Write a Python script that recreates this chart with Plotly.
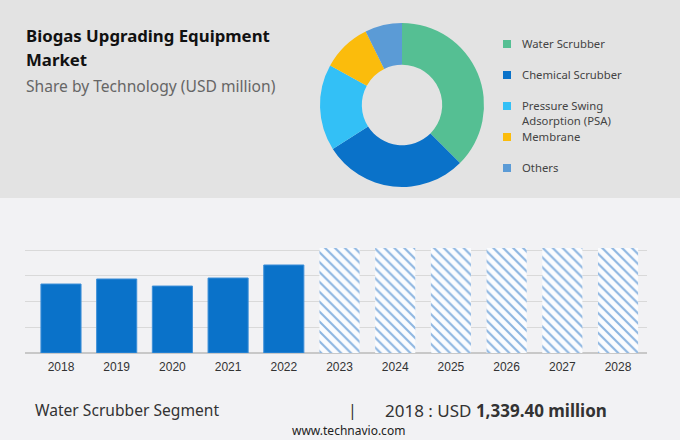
import plotly.graph_objects as go

# ---- data ----
segments = ["Water Scrubber", "Chemical Scrubber", "Pressure Swing Adsorption (PSA)", "Membrane", "Others"]
legend_labels = ["Water Scrubber", "Chemical Scrubber", "Pressure Swing<br>Adsorption (PSA)", "Membrane", "Others"]
shares = [37.5, 28.5, 17.0, 9.7, 7.3]
seg_colors = ["#55bf93", "#0a72c9", "#33c0f6", "#fbbc0c", "#5b9bd6"]

hist_years = ["2018", "2019", "2020", "2021", "2022"]
hist_values = [1339.4, 1437, 1300, 1456, 1709]
fc_years = ["2023", "2024", "2025", "2026", "2027", "2028"]
fc_values = [2040, 2040, 2040, 2040, 2040, 2040]

W, H = 680, 440
def px(x): return x / W
def py(y): return 1 - y / H

fig = go.Figure()

fig.add_trace(go.Pie(
    labels=segments, values=shares, sort=False, direction="clockwise", rotation=0,
    hole=0.49, marker=dict(colors=seg_colors, line=dict(width=0)),
    textinfo="none", hoverinfo="label+percent", showlegend=False,
    domain=dict(x=[px(320), px(484)], y=[py(187), py(23)]),
))

fig.add_trace(go.Bar(
    x=hist_years, y=hist_values, marker=dict(color="#0a72c9", line=dict(color="#3d8fd8", width=1)),
    width=0.72, showlegend=False, hoverinfo="x+y",
))
fig.add_trace(go.Bar(
    x=fc_years, y=fc_values, width=0.72, showlegend=False, hoverinfo="x",
    marker=dict(color="#fbfcfe", line=dict(width=0),
                pattern=dict(shape="\\", fgcolor="#1f6fc4", bgcolor="#fbfcfe", size=7, solidity=0.3)),
))

shapes = [
    dict(type="rect", xref="paper", yref="paper", x0=0, x1=1, y0=py(198), y1=1,
         fillcolor="#e3e3e3", line=dict(width=0), layer="below"),
    dict(type="rect", xref="paper", yref="paper", x0=0, x1=1, y0=0, y1=py(198),
         fillcolor="#f2f2f4", line=dict(width=0), layer="below"),
]
annotations = []
leg_y = [44, 75, 106, 137, 168]
for lab, col, yy in zip(legend_labels, seg_colors, leg_y):
    shapes.append(dict(type="rect", xref="paper", yref="paper", x0=px(503), x1=px(511),
                       y0=py(yy + 4), y1=py(yy - 4), fillcolor=col, line=dict(width=0)))
    annotations.append(dict(text=lab, x=px(520), y=py(yy - 10), xref="paper", yref="paper",
                            xanchor="left", yanchor="top", showarrow=False, align="left",
                            font=dict(family="Noto Sans", size=11.3, color="#444444")))

annotations += [
    dict(text="<b>Biogas Upgrading Equipment</b>", x=px(24), y=py(36), xref="paper", yref="paper",
         xanchor="left", yanchor="middle", showarrow=False, font=dict(family="Noto Sans", size=16.8, color="#111111")),
    dict(text="<b>Market</b>", x=px(24), y=py(60), xref="paper", yref="paper",
         xanchor="left", yanchor="middle", showarrow=False, font=dict(family="Noto Sans", size=16.8, color="#111111")),
    dict(text="Share by Technology (USD million)", x=px(24), y=py(86), xref="paper", yref="paper",
         xanchor="left", yanchor="middle", showarrow=False, font=dict(family="Noto Sans", size=15.6, color="#666666")),
    dict(text="Water Scrubber Segment", x=px(33), y=py(410), xref="paper", yref="paper",
         xanchor="left", yanchor="middle", showarrow=False, font=dict(family="Noto Sans", size=15.6, color="#333333")),
    dict(text="|", x=px(352), y=py(410), xref="paper", yref="paper",
         xanchor="center", yanchor="middle", showarrow=False, font=dict(family="Noto Sans", size=16, color="#333333")),
    dict(text="2018 : USD <b>1,339.40 million</b>", x=px(383), y=py(410), xref="paper", yref="paper",
         xanchor="left", yanchor="middle", showarrow=False, font=dict(family="Noto Sans", size=17, color="#333333")),
    dict(text="www.technavio.com", x=px(349), y=py(430), xref="paper", yref="paper",
         xanchor="center", yanchor="middle", showarrow=False, font=dict(family="Noto Sans", size=12, color="#222222")),
]

fig.update_layout(
    width=W, height=H, margin=dict(l=0, r=0, t=0, b=0),
    paper_bgcolor="#f2f2f4", plot_bgcolor="rgba(0,0,0,0)",
    shapes=shapes, annotations=annotations, bargap=0.28,
    xaxis=dict(domain=[px(25), px(647)], type="category", range=[-0.646, 10.52],
               showgrid=False, showline=False, ticks="", fixedrange=True, ticklabelstandoff=5,
               tickfont=dict(family="Liberation Sans", size=12, color="#333333")),
    yaxis=dict(domain=[py(353), py(353 - 2100 * 103 / 2000)], range=[0, 2100], dtick=500,
               showgrid=True, gridcolor="#d9d9d9", gridwidth=1, zeroline=True, zerolinecolor="#c8c8c8",
               zerolinewidth=1.5, showticklabels=False, ticks="", showline=False, fixedrange=True),
)

fig.write_html("out.html", config={"displayModeBar": False},
               post_script="document.body.style.margin='0';document.body.style.overflow='hidden';")
